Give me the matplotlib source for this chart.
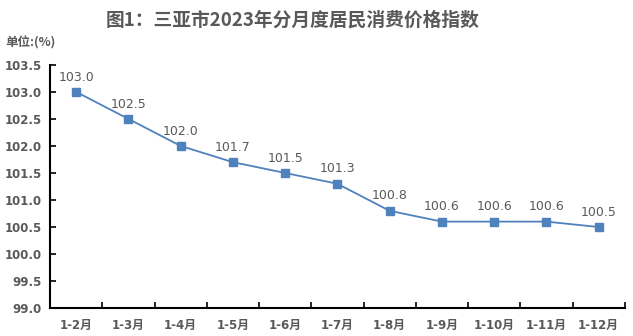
import matplotlib
matplotlib.use("Agg")
import matplotlib.pyplot as plt

plt.rcParams['font.family'] = ['Noto Sans CJK SC', 'DejaVu Sans']

months = ['1-2月', '1-3月', '1-4月', '1-5月', '1-6月', '1-7月',
          '1-8月', '1-9月', '1-10月', '1-11月', '1-12月']
cpi = [103.0, 102.5, 102.0, 101.7, 101.5, 101.3,
       100.8, 100.6, 100.6, 100.6, 100.5]
yticks = [99.0, 99.5, 100.0, 100.5, 101.0, 101.5, 102.0, 102.5, 103.0, 103.5]

grey = '#595959'
blue = '#4F81BD'
latin = ['DejaVu Sans', 'Noto Sans CJK SC']

fig = plt.figure(figsize=(6.33, 3.36), dpi=100, facecolor='white')
ax = fig.add_axes([0.079, 0.083, 0.908, 0.724])

x = list(range(len(months)))
ax.plot(x, cpi, color=blue, lw=1.3, marker='s', markersize=6,
        markerfacecolor=blue, markeredgecolor=blue, zorder=3)
for xi, v in zip(x, cpi):
    ax.annotate(f'{v:.1f}', (xi, v), xytext=(0, 6), textcoords='offset points',
                ha='center', va='bottom', fontsize=9, color=grey, family=latin)

ax.set_xlim(-0.5, len(months) - 0.5)
ax.set_ylim(99.0, 103.5)
ax.set_yticks(yticks)
ax.set_yticklabels([f'{t:.1f}' for t in yticks], fontsize=8.5,
                   fontweight='bold', color=grey, family=latin)

# category ticks sit between the labels
ax.set_xticks([i + 0.5 for i in range(-1, len(months))])
ax.set_xticklabels([])
ax.set_xticks(x, minor=True)
ax.set_xticklabels(months, minor=True, fontsize=8.5, fontweight='bold',
                   color=grey, family=latin)
ax.tick_params(axis='x', which='minor', length=0, pad=8)
ax.tick_params(axis='x', which='major', direction='in', length=4, width=1.2, color='black')
ax.tick_params(axis='y', direction='in', length=4, width=1.2, color='black', pad=6)

for s in ['top', 'right']:
    ax.spines[s].set_visible(False)
for s in ['left', 'bottom']:
    ax.spines[s].set_linewidth(1.5)
    ax.spines[s].set_color('black')

fig.text(0.462, 0.94, '图1：三亚市2023年分月度居民消费价格指数', ha='center', va='center',
         fontsize=13.5, fontweight='bold', color=grey)
fig.text(0.008, 0.872, '单位:(%)', ha='left', va='center', fontsize=9,
         fontweight='bold', color=grey)

fig.savefig('out.png', dpi=100, facecolor='white')
